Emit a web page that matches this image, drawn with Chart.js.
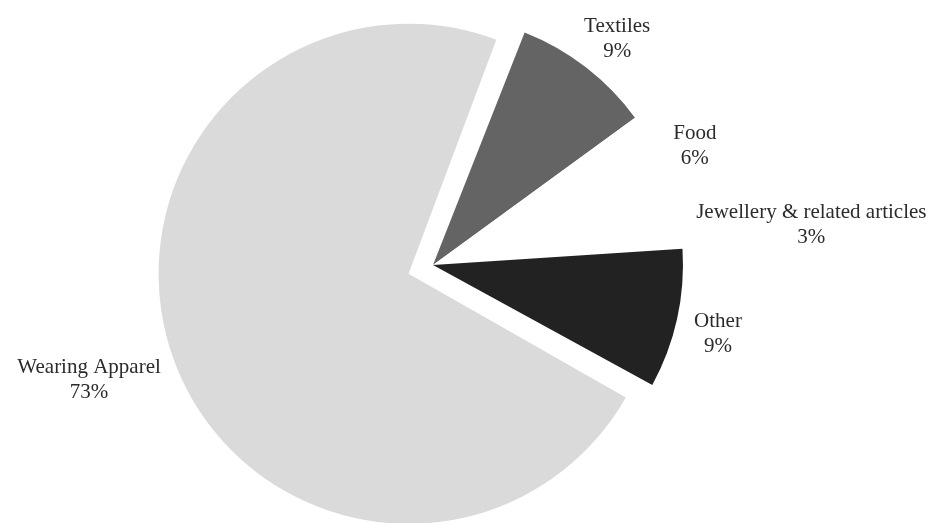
<!DOCTYPE html>
<html>
<head>
<meta charset="utf-8">
<script src="https://cdn.jsdelivr.net/npm/chart.js@4.4.0/dist/chart.umd.min.js"></script>
<style>
  html, body { margin: 0; padding: 0; background: #fff; }
  #wrap { width: 933px; height: 523px; }
</style>
</head>
<body>
<div id="wrap"><canvas id="pie"></canvas></div>
<script>
// data, clockwise from the Textiles slice
const categories = ['Textiles', 'Food', 'Jewellery & related articles', 'Other', 'Wearing Apparel'];
const shares = [9, 6, 3, 9, 73];
const sliceColors = ['#646464', '#ffffff', '#ffffff', '#222222', '#dadada'];
const explode = [0, 0, 0, 0, 104];

// Chart.js v4 moves an arc by offset/4 and also grows its radius by that much;
// pull the radius back so the exploded slice keeps the same size as the rest
const keepRadius = {
    id: 'keepRadius',
    afterDatasetUpdate(chart, args) {
        const meta = chart.getDatasetMeta(args.index);
        const R = meta.controller.outerRadius;
        meta.data.forEach(arc => {
            const off = (arc.options.offset || 0) / 4;
            if (off) arc.outerRadius = R - off;
        });
    }
};

// labels outside the pie: name on one line, percent below
const outsideLabels = {
    id: 'outsideLabels',
    afterDatasetsDraw(chart) {
        const ctx = chart.ctx;
        const meta = chart.getDatasetMeta(0);
        const lineH = 25;
        ctx.save();
        ctx.font = '21px "Liberation Serif", "Times New Roman", serif';
        ctx.fillStyle = '#2b2b2b';
        ctx.textAlign = 'center';
        ctx.textBaseline = 'middle';
        meta.data.forEach((arc, i) => {
            const p = arc.getProps(['x', 'y', 'startAngle', 'endAngle', 'outerRadius'], true);
            const mid = (p.startAngle + p.endAngle) / 2;
            const off = (arc.options.offset || 0) / 4;
            const cx = p.x + Math.cos(mid) * off;
            const cy = p.y + Math.sin(mid) * off;
            const r = p.outerRadius + off + 18;
            const lines = [categories[i], shares[i] + '%'];
            const w = Math.max(...lines.map(t => ctx.measureText(t).width));
            const h = lineH * lines.length;
            const x = cx + Math.cos(mid) * r + Math.cos(mid) * w / 2;
            const y = cy + Math.sin(mid) * r + Math.sin(mid) * h / 2 + 6;
            lines.forEach((t, k) => {
                ctx.fillText(t, x, y - h / 2 + lineH * (k + 0.5));
            });
        });
        ctx.restore();
    }
};

new Chart(document.getElementById('pie'), {
    type: 'pie',
    data: {
        labels: categories,
        datasets: [{
            data: shares,
            backgroundColor: sliceColors,
            borderWidth: 0,
            offset: explode,
            clip: false
        }]
    },
    options: {
        responsive: true,
        maintainAspectRatio: false,
        animation: false,
        rotation: 21.5,
        radius: 250,
        layout: { padding: { top: 7, right: 67, left: 0, bottom: 0 } },
        plugins: {
            legend: { display: false },
            tooltip: { enabled: false }
        }
    },
    plugins: [keepRadius, outsideLabels]
});
</script>
</body>
</html>
